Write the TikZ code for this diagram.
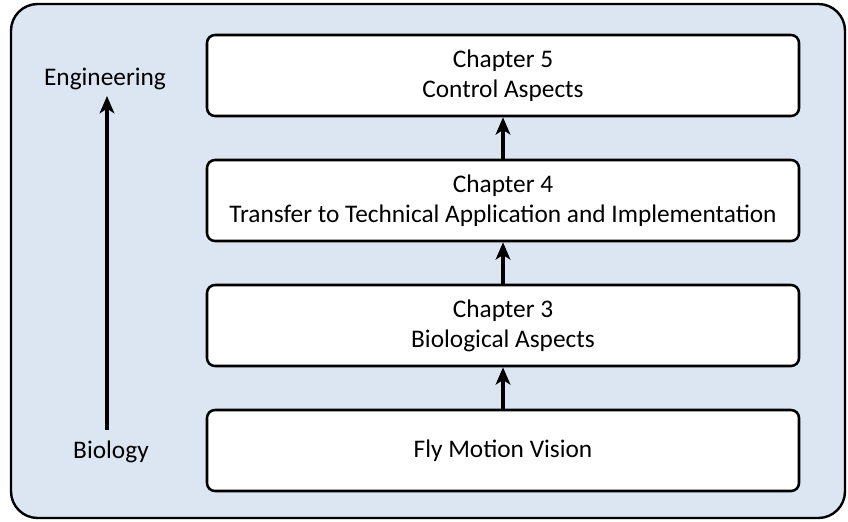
\documentclass[tikz,border=0pt]{standalone}
\usepackage{fontspec}
\setmainfont{Carlito}
\usetikzlibrary{arrows.meta}
\definecolor{panelblue}{HTML}{DCE6F2}
\tikzset{
  px/.style={x=0.75pt,y=-0.75pt},
  chapbox/.style={draw=black, line width=1.9pt, fill=white, rounded corners=6pt,
    minimum width=592*0.75pt, minimum height=81*0.75pt, align=center,
    font=\fontsize{19pt}{22.5pt}\selectfont, inner sep=0pt},
  sidelabel/.style={font=\fontsize{19pt}{22.5pt}\selectfont, inner sep=0pt},
  uparrow/.style={line width=2.4pt, -{Stealth[length=13pt, width=11pt, inset=3.5pt]}}
}
\begin{document}
\begin{tikzpicture}[px]
  \useasboundingbox (0,0) rectangle (848,521);
  % panel behind the chapter stack
  \draw[line width=1.8pt, fill=panelblue, rounded corners=20pt] (11,4) rectangle (845,518);

  % chapter boxes, bottom to top
  \node[chapbox] (fly) at (503,450.5) {Fly Motion Vision};
  \node[chapbox] (ch3) at (503,325.5) {Chapter 3\\Biological Aspects};
  \node[chapbox] (ch4) at (503,200.5) {Chapter 4\\Transfer to Technical Application and Implementation};
  \node[chapbox] (ch5) at (503,75.5) {Chapter 5\\Control Aspects};

  \draw[uparrow] (fly) -- (ch3);
  \draw[uparrow] (ch3) -- (ch4);
  \draw[uparrow] (ch4) -- (ch5);

  % biology-to-engineering axis
  \node[sidelabel] (eng) at (105,79) {Engineering};
  \node[sidelabel] (bio) at (111,452) {Biology};
  \coordinate (axbot) at (107,430);
  \coordinate (axtop) at (107,96);
  \draw[uparrow] (axbot) -- (axtop);
\end{tikzpicture}
\end{document}
